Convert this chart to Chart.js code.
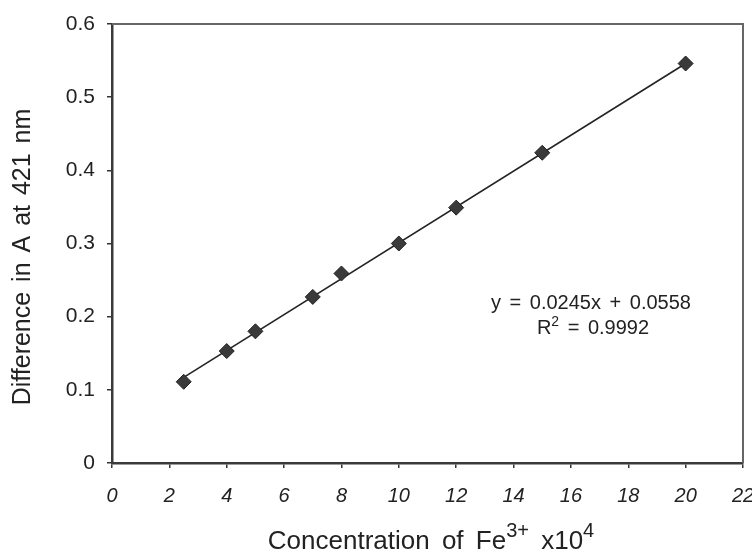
<!DOCTYPE html>
<html>
<head>
<meta charset="utf-8">
<script src="https://cdn.jsdelivr.net/npm/chart.js@4.4.0/dist/chart.umd.min.js"></script>
<style>
    html, body { margin: 0; padding: 0; background: #fff; }
    canvas { display: block; }
</style>
</head>
<body>
<canvas id="chart" width="752" height="552"></canvas>
<script>
// values (concentration in units of x10^4)
var concentration = [2.5, 4, 5, 7, 8, 10, 12, 15, 20];
var absorbance = [0.111, 0.153, 0.180, 0.227, 0.259, 0.300, 0.349, 0.424, 0.546];

// linear trendline, end points as drawn in the picture
var trendX = [2.5, 20];
var trendY = [0.117, 0.546];

var xTicks = [0, 2, 4, 6, 8, 10, 12, 14, 16, 18, 20, 22];
var yTicks = [0, 0.1, 0.2, 0.3, 0.4, 0.5, 0.6];

var equationLine = 'y = 0.0245x + 0.0558';
var rSquared = '0.9992';
var yTitle = 'Difference in A at 421 nm';
var xTitle = ['Concentration of Fe', '3+', ' x10', '4'];

var FONT = '"Liberation Sans", Arial, sans-serif';

function toPoints(xs, ys) {
    return xs.map(function (x, i) {
        return { x: x, y: ys[i] };
    });
}

function fixedTicks(values) {
    return function (scale) {
        scale.ticks = values.map(function (v) { return { value: v }; });
    };
}

// draws the frame, axis titles with superscripts and the fit equation
var extras = {
    id: 'extras',
    afterDraw: function (chart) {
        var ctx = chart.ctx;
        var area = chart.chartArea;
        var xs = chart.scales.x;
        var ys = chart.scales.y;
        var spacing = 'wordSpacing' in ctx;
        ctx.save();

        ctx.strokeStyle = '#666';
        ctx.lineWidth = 2;
        ctx.beginPath();
        ctx.moveTo(area.left, area.top);
        ctx.lineTo(area.right, area.top);
        ctx.lineTo(area.right, area.bottom);
        ctx.stroke();

        ctx.fillStyle = '#222';

        // y title
        if (spacing) ctx.wordSpacing = '3px';
        ctx.save();
        ctx.translate(23, 257);
        ctx.rotate(-Math.PI / 2);
        ctx.font = '25px ' + FONT;
        ctx.textAlign = 'center';
        ctx.textBaseline = 'middle';
        ctx.fillText(yTitle, 0, 0);
        ctx.restore();

        // x title with superscripts
        if (spacing) ctx.wordSpacing = '5px';
        var big = '26px ' + FONT, small = '20px ' + FONT;
        var parts = [
            { t: xTitle[0], f: big, dy: 0 },
            { t: xTitle[1], f: small, dy: -12 },
            { t: xTitle[2], f: big, dy: 0 },
            { t: xTitle[3], f: small, dy: -12 }
        ];
        var total = 0;
        parts.forEach(function (p) { ctx.font = p.f; p.w = ctx.measureText(p.t).width; total += p.w; });
        var x = 431 - total / 2;
        ctx.textAlign = 'left';
        ctx.textBaseline = 'alphabetic';
        parts.forEach(function (p) {
            ctx.font = p.f;
            ctx.fillText(p.t, x, 549 + p.dy);
            x += p.w;
        });

        // fit equation
        if (spacing) ctx.wordSpacing = '3px';
        var ex = xs.getPixelForValue(16.7);
        ctx.font = '20px ' + FONT;
        ctx.textAlign = 'center';
        ctx.fillText(equationLine, ex, ys.getPixelForValue(0.2197) + 7);

        var r1 = 'R', r2 = '2', r3 = ' = ' + rSquared;
        ctx.font = '20px ' + FONT;
        var w1 = ctx.measureText(r1).width, w3 = ctx.measureText(r3).width;
        ctx.font = '14px ' + FONT;
        var w2 = ctx.measureText(r2).width;
        var rx = ex + 2 - (w1 + w2 + w3) / 2;
        var ry = ys.getPixelForValue(0.1855) + 7;
        ctx.textAlign = 'left';
        ctx.font = '20px ' + FONT;
        ctx.fillText(r1, rx, ry);
        ctx.font = '14px ' + FONT;
        ctx.fillText(r2, rx + w1, ry - 8);
        ctx.font = '20px ' + FONT;
        ctx.fillText(r3, rx + w1 + w2, ry);

        ctx.restore();
    }
};

new Chart(document.getElementById('chart'), {
    type: 'scatter',
    data: {
        datasets: [
            {
                label: 'Measured',
                data: toPoints(concentration, absorbance),
                pointStyle: 'rectRot',
                pointRadius: 7.5,
                pointHoverRadius: 7.5,
                backgroundColor: '#3a3a3a',
                borderColor: '#222',
                borderWidth: 1
            },
            {
                label: 'Linear fit',
                data: toPoints(trendX, trendY),
                showLine: true,
                pointRadius: 0,
                borderColor: '#222',
                borderWidth: 1.6
            }
        ]
    },
    options: {
        responsive: false,
        animation: false,
        layout: { padding: { top: 24, right: 9, left: 0, bottom: 0 } },
        plugins: {
            legend: { display: false },
            tooltip: { enabled: false }
        },
        scales: {
            x: {
                type: 'linear',
                min: 0,
                max: 22,
                afterBuildTicks: fixedTicks(xTicks),
                afterFit: function (scale) {
                    scale.height = 89;
                    scale.paddingLeft = 0;
                    scale.paddingRight = 0;
                },
                border: { color: '#3a3a3a', width: 2.5 },
                grid: { drawOnChartArea: false, drawTicks: true, tickLength: 5, color: '#333', lineWidth: 1.5 },
                ticks: {
                    padding: 16,
                    color: '#222',
                    maxRotation: 0,
                    font: { family: FONT, size: 20, style: 'italic' }
                }
            },
            y: {
                type: 'linear',
                min: 0,
                max: 0.6,
                afterBuildTicks: fixedTicks(yTicks),
                afterFit: function (scale) {
                    scale.width = 112;
                    scale.paddingTop = 0;
                    scale.paddingBottom = 0;
                },
                border: { color: '#3a3a3a', width: 2.5 },
                grid: { drawOnChartArea: false, drawTicks: true, tickLength: 5, color: '#333', lineWidth: 1.5 },
                ticks: {
                    padding: 12,
                    color: '#222',
                    font: { family: FONT, size: 21 },
                    callback: function (v) { return v === 0 ? '0' : v.toFixed(1); }
                }
            }
        }
    },
    plugins: [extras]
});
</script>
</body>
</html>
